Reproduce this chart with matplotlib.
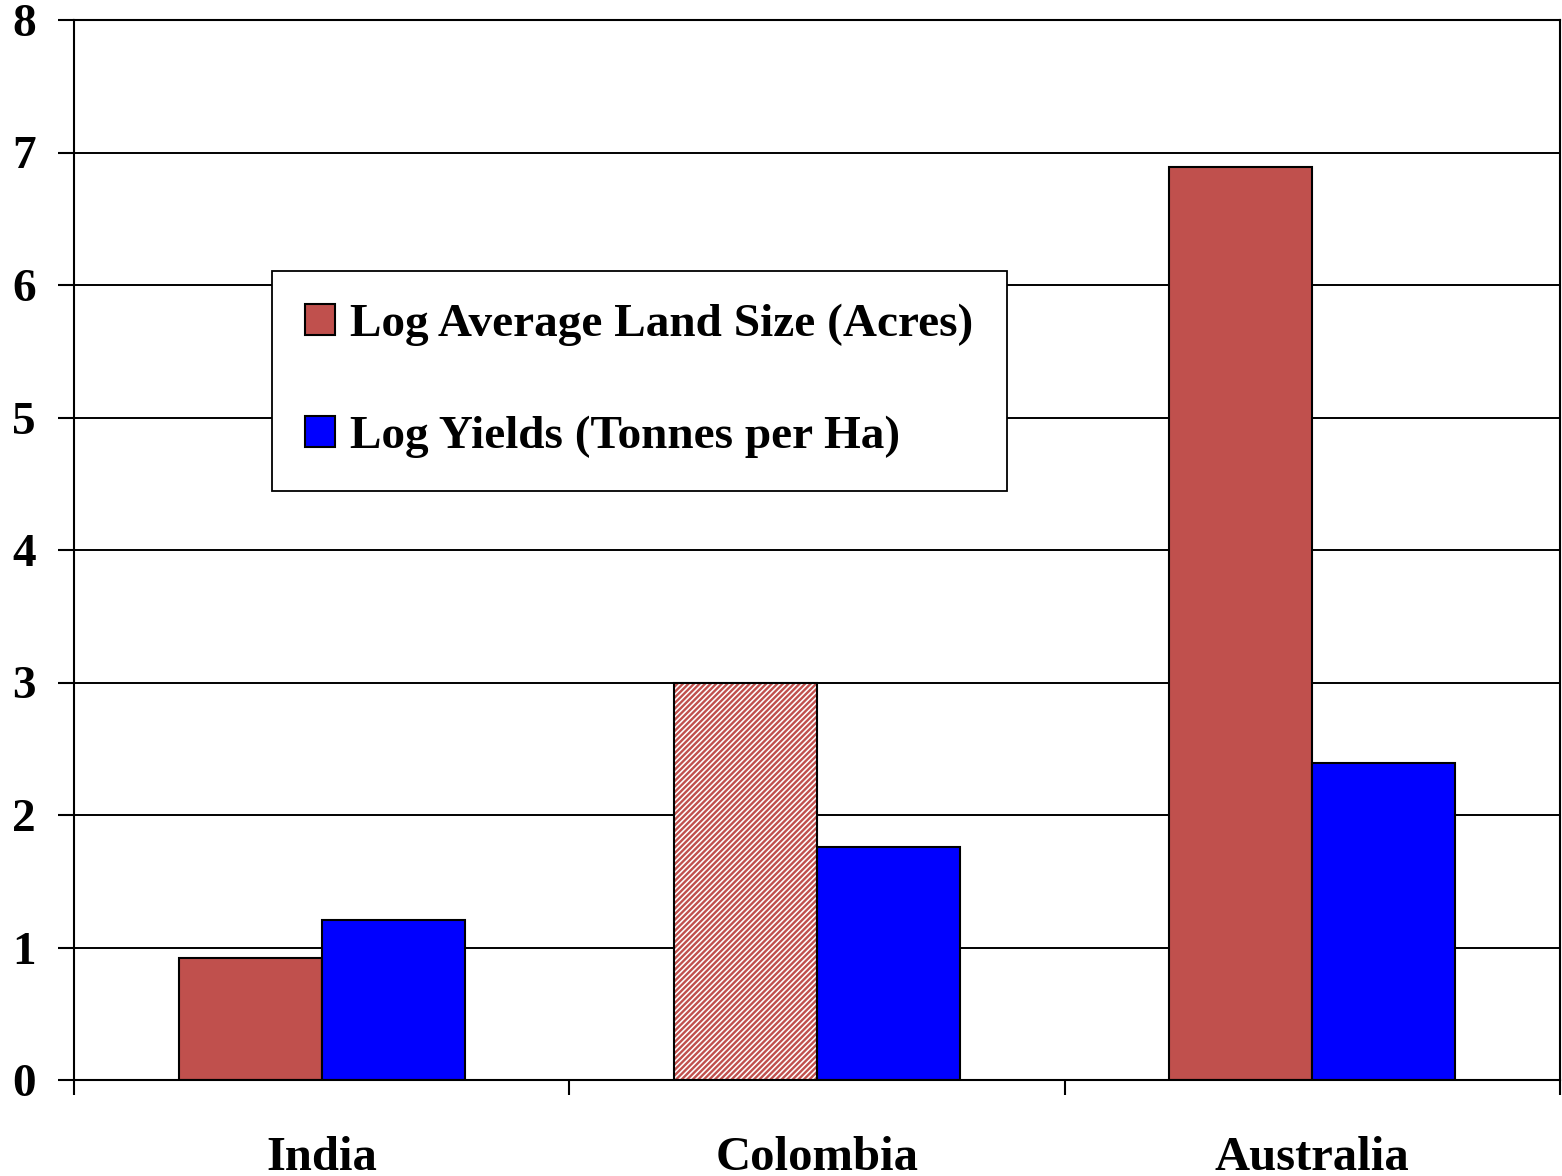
import matplotlib
matplotlib.use("Agg")
import matplotlib.pyplot as plt
from matplotlib.patches import Patch
import numpy as np

countries = ["India", "Colombia", "Australia"]
land_size = [0.92, 3.0, 6.89]
yields = [1.21, 1.76, 2.39]
y_ticks = [0, 1, 2, 3, 4, 5, 6, 7, 8]
series_names = ["Log Average Land Size (Acres)", "Log Yields (Tonnes per Ha)"]

red = "#C0504D"
blue = "#0000FF"

plt.rcParams["font.family"] = ["Liberation Serif", "DejaVu Serif"]
plt.rcParams["font.weight"] = "bold"
plt.rcParams["hatch.linewidth"] = 1.7

fig = plt.figure(figsize=(15.62, 11.76), dpi=100)
ax = fig.add_axes([74 / 1562, 96 / 1176, 1486 / 1562, 1060 / 1176])

x = np.arange(len(countries))
w = 0.289

ax.set_axisbelow(True)
ax.yaxis.grid(True, color="black", linewidth=1.4)

for i, v in enumerate(land_size):
    if countries[i] == "Colombia":
        # hatched bar: red diagonal stripes on white
        ax.bar(x[i] - w / 2, v, w, color="white", edgecolor=red, hatch="//////",
               linewidth=0, zorder=2)
        ax.bar(x[i] - w / 2, v, w, fill=False, edgecolor="black",
               linewidth=1.5, zorder=3)
    else:
        ax.bar(x[i] - w / 2, v, w, color=red, edgecolor="black",
               linewidth=1.5, zorder=2)
ax.bar(x + w / 2, yields, w, color=blue, edgecolor="black", linewidth=1.5,
       zorder=2)

ax.set_xlim(-0.5, 2.5)
ax.set_ylim(0, 8)
ax.set_yticks(y_ticks)
ax.set_yticklabels([str(t) for t in y_ticks], fontsize=34, fontweight="bold")
ax.tick_params(axis="y", length=11.5, width=1.5, pad=16, direction="out")

ax.set_xticks(x)
ax.set_xticklabels(countries, fontsize=35, fontweight="bold")
ax.tick_params(axis="x", which="major", length=0, pad=40)
ax.set_xticks([-0.5, 0.5, 1.5, 2.5], minor=True)
ax.tick_params(axis="x", which="minor", length=11, width=1.5, direction="out")

for s in ax.spines.values():
    s.set_linewidth(1.5)
    s.set_color("black")

handles = [Patch(facecolor=red, edgecolor="black", linewidth=1.5),
           Patch(facecolor=blue, edgecolor="black", linewidth=1.5)]
leg = ax.legend(handles, series_names, loc="upper left",
                bbox_to_anchor=(198 / 1486, 809 / 1060),
                prop={"family": "Liberation Serif", "weight": "bold", "size": 34},
                frameon=True, fancybox=False, shadow=False,
                handlelength=0.64, handleheight=0.64, handletextpad=0.32,
                labelspacing=1.46, borderpad=0.7, borderaxespad=0)
leg.get_frame().set_edgecolor("black")
leg.get_frame().set_linewidth(1.3)
leg.get_frame().set_alpha(1)

fig.savefig("out.png", dpi=100)
